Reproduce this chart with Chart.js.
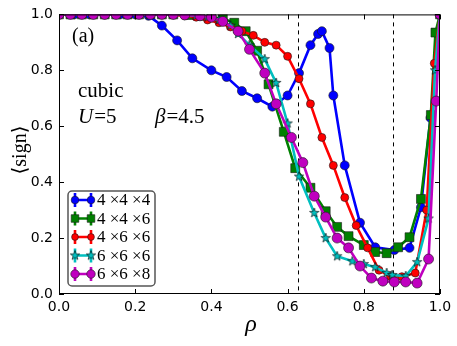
<!DOCTYPE html>
<html>
<head>
<meta charset="utf-8">
<script src="https://cdn.jsdelivr.net/npm/chart.js@4"></script>
<style>
  html, body { margin: 0; padding: 0; background: #fff; }
  #wrap { width: 457px; height: 346px; }
</style>
</head>
<body>
<div id="wrap"><canvas id="chart" width="457" height="346"></canvas></div>
<script>
// Series labels (legend order)
var seriesLabels = ['4 \u00d74 \u00d74', '4 \u00d74 \u00d76', '4 \u00d76 \u00d76', '6 \u00d76 \u00d76', '6 \u00d76 \u00d78'];

// 4x4x4
var rho444  = [0.00, 0.04, 0.08, 0.12, 0.16, 0.20, 0.235, 0.27, 0.31, 0.35, 0.40, 0.44, 0.48, 0.52, 0.56, 0.60, 0.63, 0.66, 0.68, 0.69, 0.71, 0.72, 0.75, 0.79, 0.83, 0.88, 0.92, 0.95, 0.975, 1.00];
var sign444 = [1.00, 1.00, 1.00, 1.00, 1.00, 1.00, 0.995, 0.96, 0.907, 0.843, 0.80, 0.776, 0.726, 0.70, 0.67, 0.71, 0.79, 0.89, 0.93, 0.94, 0.88, 0.71, 0.46, 0.255, 0.167, 0.157, 0.165, 0.31, 0.63, 1.00];

// 4x4x6
var rho446  = [0.00, 0.03, 0.06, 0.09, 0.12, 0.15, 0.18, 0.21, 0.24, 0.27, 0.30, 0.34, 0.37, 0.40, 0.43, 0.46, 0.49, 0.52, 0.55, 0.59, 0.62, 0.66, 0.70, 0.73, 0.76, 0.80, 0.83, 0.86, 0.89, 0.92, 0.95, 0.976, 0.988, 1.00];
var sign446 = [1.00, 1.00, 1.00, 1.00, 1.00, 1.00, 1.00, 1.00, 1.00, 1.00, 1.00, 0.998, 0.995, 0.99, 0.985, 0.97, 0.94, 0.87, 0.75, 0.58, 0.45, 0.38, 0.296, 0.24, 0.207, 0.175, 0.15, 0.146, 0.167, 0.203, 0.34, 0.64, 0.935, 1.00];

// 4x6x6
var rho466  = [0.00, 0.03, 0.06, 0.09, 0.12, 0.15, 0.18, 0.21, 0.24, 0.27, 0.30, 0.33, 0.36, 0.39, 0.42, 0.45, 0.48, 0.51, 0.54, 0.57, 0.60, 0.63, 0.66, 0.69, 0.72, 0.75, 0.78, 0.81, 0.84, 0.87, 0.90, 0.935, 0.965, 0.985, 1.00];
var sign466 = [1.00, 1.00, 1.00, 1.00, 1.00, 1.00, 1.00, 1.00, 1.00, 1.00, 0.998, 0.995, 0.99, 0.98, 0.97, 0.955, 0.94, 0.925, 0.90, 0.89, 0.85, 0.77, 0.68, 0.56, 0.46, 0.345, 0.245, 0.165, 0.085, 0.063, 0.062, 0.075, 0.30, 0.825, 1.00];

// 6x6x6
var rho666  = [0.00, 0.03, 0.06, 0.09, 0.12, 0.15, 0.18, 0.21, 0.24, 0.27, 0.30, 0.33, 0.36, 0.39, 0.42, 0.45, 0.47, 0.50, 0.54, 0.57, 0.60, 0.63, 0.67, 0.70, 0.73, 0.77, 0.80, 0.83, 0.86, 0.875, 0.91, 0.94, 0.97, 0.987, 1.00];
var sign666 = [1.00, 1.00, 1.00, 1.00, 1.00, 1.00, 1.00, 1.00, 1.00, 1.00, 1.00, 0.998, 0.995, 0.99, 0.98, 0.96, 0.93, 0.89, 0.84, 0.755, 0.61, 0.42, 0.29, 0.20, 0.135, 0.117, 0.107, 0.096, 0.075, 0.068, 0.064, 0.114, 0.27, 0.80, 1.00];

// 6x6x8
var rho668  = [0.00, 0.03, 0.06, 0.09, 0.12, 0.15, 0.18, 0.21, 0.24, 0.27, 0.30, 0.33, 0.37, 0.40, 0.43, 0.47, 0.50, 0.54, 0.57, 0.61, 0.64, 0.67, 0.70, 0.73, 0.76, 0.79, 0.82, 0.85, 0.88, 0.91, 0.94, 0.97, 0.99, 1.00];
var sign668 = [1.00, 1.00, 1.00, 1.00, 1.00, 1.00, 1.00, 1.00, 1.00, 1.00, 1.00, 0.998, 0.995, 0.99, 0.975, 0.94, 0.875, 0.79, 0.68, 0.56, 0.47, 0.35, 0.275, 0.20, 0.165, 0.10, 0.057, 0.046, 0.043, 0.043, 0.039, 0.125, 0.69, 1.00];

// Axis ticks and reference lines
var xTicks = [0.0, 0.2, 0.4, 0.6, 0.8, 1.0];
var yTicks = [0.0, 0.2, 0.4, 0.6, 0.8, 1.0];
var dashedRho = [0.627, 0.877];

var colors = ['#0000ff', '#008000', '#ff0000', '#00bfbf', '#bf00bf'];

function toPoints(xs, ys) {
	return xs.map(function(x, i) { return { x: x, y: ys[i] }; });
}

// Filled five-point star marker, like matplotlib '*'
function makeStar(color, r) {
	var c = document.createElement('canvas');
	var s = Math.ceil(r * 2 + 2);
	c.width = s; c.height = s;
	var g = c.getContext('2d');
	g.beginPath();
	for (var i = 0; i < 10; i++) {
		var rr = (i % 2 === 0) ? r : r * 0.4;
		var a = -Math.PI / 2 + i * Math.PI / 5;
		var px = s / 2 + rr * Math.cos(a), py = s / 2 + rr * Math.sin(a);
		if (i === 0) g.moveTo(px, py); else g.lineTo(px, py);
	}
	g.closePath();
	g.fillStyle = color;
	g.fill();
	g.lineWidth = 0.6;
	g.strokeStyle = '#000';
	g.stroke();
	return c;
}

var starImg = makeStar('#00bfbf', 5);

var markers = [
	{ style: 'circle', radius: 4.5 },
	{ style: 'rect', radius: 6.3 },
	{ style: 'circle', radius: 4 },
	{ style: starImg, radius: 5 },
	{ style: 'circle', radius: 5 }
];

var seriesData = [
	toPoints(rho444, sign444),
	toPoints(rho446, sign446),
	toPoints(rho466, sign466),
	toPoints(rho666, sign666),
	toPoints(rho668, sign668)
];

var datasets = seriesData.map(function(d, i) {
	return {
		label: seriesLabels[i],
		data: d,
		borderColor: colors[i],
		backgroundColor: colors[i],
		borderWidth: 2.6,
		pointStyle: markers[i].style,
		pointRadius: markers[i].radius,
		pointBackgroundColor: colors[i],
		pointBorderColor: '#1a1a1a',
		pointBorderWidth: 0.6,
		tension: 0,
		clip: 0,
		order: seriesData.length - i
	};
});

var serif = '"Liberation Serif", "DejaVu Serif", serif';

var framePlugin = {
	id: 'frame',
	beforeDatasetsDraw: function(chart) {
		var ctx = chart.ctx, a = chart.chartArea;
		var xs = chart.scales.x;
		ctx.save();
		// dashed reference lines
		ctx.strokeStyle = '#000';
		ctx.lineWidth = 1;
		ctx.setLineDash([4, 4]);
		dashedRho.forEach(function(v) {
			var px = Math.round(xs.getPixelForValue(v)) + 0.5;
			ctx.beginPath();
			ctx.moveTo(px, a.top);
			ctx.lineTo(px, a.bottom);
			ctx.stroke();
		});
		ctx.restore();
	},
	afterDraw: function(chart) {
		var ctx = chart.ctx, a = chart.chartArea;
		var xs = chart.scales.x, ys = chart.scales.y;
		ctx.save();
		ctx.strokeStyle = '#000';
		ctx.lineWidth = 1;
		ctx.strokeRect(a.left + 0.5, a.top + 0.5, a.right - a.left - 1, a.bottom - a.top - 1);
		// inward ticks on all four sides
		ctx.beginPath();
		xTicks.forEach(function(v) {
			var px = Math.round(xs.getPixelForValue(v)) + 0.5;
			ctx.moveTo(px, a.bottom); ctx.lineTo(px, a.bottom - 5);
			ctx.moveTo(px, a.top); ctx.lineTo(px, a.top + 5);
		});
		yTicks.forEach(function(v) {
			var py = Math.round(ys.getPixelForValue(v)) + 0.5;
			ctx.moveTo(a.left, py); ctx.lineTo(a.left + 5, py);
			ctx.moveTo(a.right, py); ctx.lineTo(a.right - 5, py);
		});
		ctx.stroke();

		// annotations
		ctx.fillStyle = '#000';
		ctx.textBaseline = 'alphabetic';
		ctx.textAlign = 'left';
		ctx.font = '20px ' + serif;
		ctx.fillText('(a)', 72, 42);
		ctx.font = '21px ' + serif;
		ctx.fillText('cubic', 78, 97);

		// U=5   beta=4.5
		var x = 78, y = 123;
		ctx.font = 'italic 21px ' + serif;
		ctx.fillText('U', x, y);
		x += ctx.measureText('U').width + 1;
		ctx.font = '21px ' + serif;
		ctx.fillText('=5', x, y);
		x = 155;
		ctx.font = 'italic 21px ' + serif;
		ctx.fillText('\u03b2', x, y);
		x += ctx.measureText('\u03b2').width + 1;
		ctx.font = '21px ' + serif;
		ctx.fillText('=4.5', x, y);

		// axis titles
		ctx.font = 'italic 24px ' + serif;
		ctx.textAlign = 'center';
		ctx.fillText('\u03c1', 251, 331);
		ctx.save();
		ctx.translate(26, 150);
		ctx.rotate(-Math.PI / 2);
		ctx.font = '20px ' + serif;
		ctx.fillText('\u27e8sign\u27e9', 0, 0);
		ctx.restore();

		// legend box
		var bx = 68, by = 191, bw = 87, bh = 95, r = 4;
		ctx.beginPath();
		ctx.moveTo(bx + r, by);
		ctx.arcTo(bx + bw, by, bx + bw, by + bh, r);
		ctx.arcTo(bx + bw, by + bh, bx, by + bh, r);
		ctx.arcTo(bx, by + bh, bx, by, r);
		ctx.arcTo(bx, by, bx + bw, by, r);
		ctx.closePath();
		ctx.fillStyle = '#fff';
		ctx.fill();
		ctx.strokeStyle = '#555';
		ctx.lineWidth = 1.5;
		ctx.stroke();

		ctx.textAlign = 'left';
		ctx.textBaseline = 'middle';
		ctx.font = '17px ' + serif;
		seriesLabels.forEach(function(lbl, i) {
			var ry = 200 + i * 18.5;
			var x1 = 75, x2 = 91;
			ctx.strokeStyle = colors[i];
			ctx.lineWidth = 2.6;
			ctx.beginPath();
			ctx.moveTo(x1, ry); ctx.lineTo(x2, ry);
			ctx.moveTo(x1, ry - 7); ctx.lineTo(x1, ry + 7);
			ctx.moveTo(x2, ry - 7); ctx.lineTo(x2, ry + 7);
			ctx.stroke();
			[x1, x2].forEach(function(mx) {
				ctx.fillStyle = colors[i];
				ctx.strokeStyle = '#1a1a1a';
				ctx.lineWidth = 0.6;
				Chart.helpers.drawPoint(ctx, {
					pointStyle: markers[i].style,
					radius: markers[i].radius * 0.85,
					rotation: 0,
					borderWidth: 0.6
				}, mx, ry);
			});
			ctx.fillStyle = '#000';
			ctx.fillText(lbl, 97, ry + 1);
		});
		ctx.restore();
	}
};

var ctx = document.getElementById('chart').getContext('2d');
new Chart(ctx, {
	type: 'line',
	data: { datasets: datasets },
	options: {
		responsive: false,
		animation: false,
		events: [],
		layout: { padding: { top: 13, right: 17, left: 0, bottom: 0 } },
		plugins: {
			legend: { display: false },
			tooltip: { enabled: false },
			title: { display: false }
		},
		scales: {
			x: {
				type: 'linear',
				min: 0,
				max: 1,
				grid: { display: false, drawTicks: false },
				border: { display: false },
				afterFit: function(scale) { scale.height = 52; },
				afterBuildTicks: function(scale) {
					scale.ticks = xTicks.map(function(v) { return { value: v }; });
				},
				ticks: {
					padding: 5,
					color: '#000',
					font: { family: '"DejaVu Sans", sans-serif', size: 14 },
					callback: function(v) { return Number(v).toFixed(1); }
				}
			},
			y: {
				type: 'linear',
				min: 0,
				max: 1,
				grid: { display: false, drawTicks: false },
				border: { display: false },
				afterFit: function(scale) { scale.width = 59; },
				afterBuildTicks: function(scale) {
					scale.ticks = yTicks.map(function(v) { return { value: v }; });
				},
				ticks: {
					padding: 6,
					color: '#000',
					font: { family: '"DejaVu Sans", sans-serif', size: 14 },
					callback: function(v) { return Number(v).toFixed(1); }
				}
			}
		}
	},
	plugins: [framePlugin]
});
</script>
</body>
</html>
